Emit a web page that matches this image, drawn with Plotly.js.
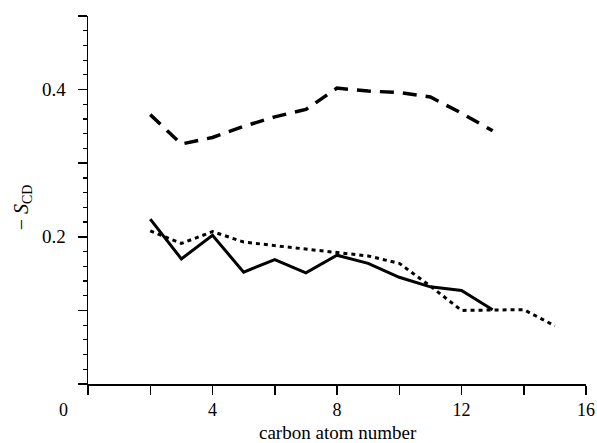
<!DOCTYPE html>
<html>
<head>
<meta charset="utf-8">
<script src="https://cdn.plot.ly/plotly-3.0.1.min.js"></script>
<style>
  html, body { margin: 0; padding: 0; background: #fff; }
  #chart { width: 597px; height: 443px; }
</style>
</head>
<body>
<div id="chart"></div>
<script>
// Carbon positions along the acyl chain
const carbonsA = [2, 3, 4, 5, 6, 7, 8, 9, 10, 11, 12, 13];
const carbonsB = [2, 3, 4, 5, 6, 7, 8, 9, 10, 11, 12, 13, 14, 15];
const carbonsC = [2, 3, 4, 5, 6, 7, 8, 9, 10, 11, 12, 13];

// Order parameters -S_CD
const solidSeries  = [0.224, 0.170, 0.202, 0.152, 0.169, 0.151, 0.175, 0.164, 0.145, 0.132, 0.127, 0.101];
const dottedSeries = [0.208, 0.191, 0.207, 0.193, 0.188, 0.183, 0.179, 0.174, 0.164, 0.133, 0.100, 0.100, 0.101, 0.079];
const dashedSeries = [0.366, 0.326, 0.335, 0.350, 0.363, 0.373, 0.402, 0.398, 0.396, 0.390, 0.368, 0.344];

// Axis ticks (labelled every 4 carbons and every 0.2)
const xTickVals = [0, 2, 4, 6, 8, 10, 12, 14, 16];
const xTickText = [' ', ' ', '4', ' ', '8', ' ', '12', ' ', '16'];
const yTickVals = [0, 0.1, 0.2, 0.3, 0.4, 0.5];
const yTickText = [' ', ' ', '0.2', ' ', '0.4', ' '];

const serif = 'Liberation Serif';

const traces = [
  {
    x: carbonsA, y: solidSeries, type: 'scatter', mode: 'lines',
    line: { color: '#000', width: 3 }, hoverinfo: 'skip'
  },
  {
    x: carbonsB, y: dottedSeries, type: 'scatter', mode: 'lines',
    line: { color: '#000', width: 3, dash: '4px,4px' }, hoverinfo: 'skip'
  },
  {
    x: carbonsC, y: dashedSeries, type: 'scatter', mode: 'lines',
    line: { color: '#000', width: 3.5, dash: '14px,9px' }, hoverinfo: 'skip'
  }
];

const layout = {
  width: 597, height: 443,
  margin: { l: 88, r: 11, t: 16, b: 59 },
  paper_bgcolor: '#fff', plot_bgcolor: '#fff',
  showlegend: false,
  font: { family: serif, size: 19, color: '#000' },
  xaxis: {
    range: [0, 16], showgrid: false, zeroline: false,
    showline: true, linecolor: '#000', linewidth: 1.5,
    ticks: 'outside', ticklen: 9, tickwidth: 1.5, tickcolor: '#000',
    tickmode: 'array', tickvals: xTickVals, ticktext: xTickText,
    tickfont: { family: serif, size: 18, color: '#000' },
    ticklabelstandoff: 0
  },
  yaxis: {
    range: [0, 0.5], showgrid: false, zeroline: false,
    showline: true, linecolor: '#000', linewidth: 1.5,
    ticks: 'outside', ticklen: 9, tickwidth: 1.5, tickcolor: '#000',
    tickmode: 'array', tickvals: yTickVals, ticktext: yTickText,
    tickfont: { family: serif, size: 19, color: '#000' },
    ticklabelstandoff: 8,
    minor: { ticks: 'outside', tick0: 0, dtick: 0.02, ticklen: 4, tickwidth: 1.2, tickcolor: '#000', showgrid: false }
  },
  annotations: [
    {
      text: 'carbon atom number', xref: 'paper', yref: 'paper',
      x: 0.503, y: -0.133, xanchor: 'center', yanchor: 'middle',
      showarrow: false, font: { family: serif, size: 19, color: '#000' }
    },
    {
      text: '\u2212 <i>S</i><sub>CD</sub>', xref: 'paper', yref: 'paper',
      x: -0.13, y: 0.481, xanchor: 'center', yanchor: 'middle', textangle: -90,
      showarrow: false, font: { family: serif, size: 20, color: '#000' }
    },
    {
      text: '0', xref: 'paper', yref: 'paper',
      x: -0.05, y: -0.07, xanchor: 'center', yanchor: 'middle',
      showarrow: false, font: { family: serif, size: 18, color: '#000' }
    }
  ]
};

Plotly.newPlot('chart', traces, layout, { displayModeBar: false, staticPlot: true });
</script>
</body>
</html>
